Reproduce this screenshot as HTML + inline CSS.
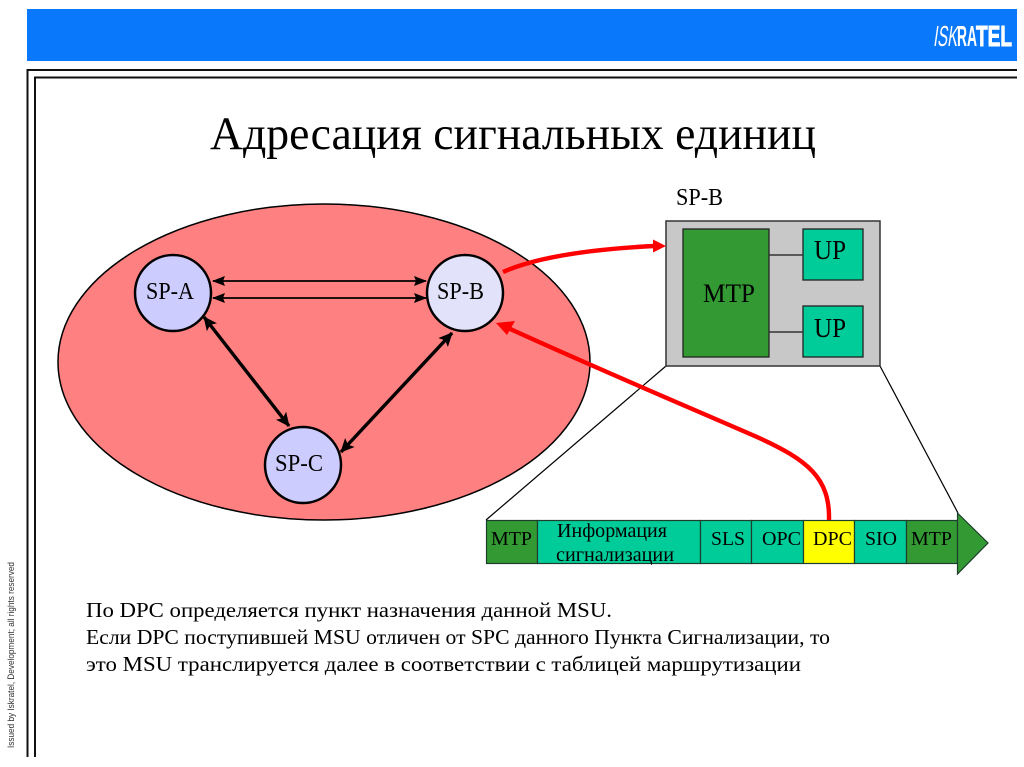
<!DOCTYPE html>
<html lang="ru">
<head>
<meta charset="utf-8">
<title>Адресация сигнальных единиц</title>
<style>
html,body{margin:0;padding:0;background:#fff;}
svg{display:block;}
text{font-family:"Liberation Serif","Noto Serif CJK SC",serif;fill:#000;}
.logo{font-family:"Liberation Sans",sans-serif;fill:#fff;}
</style>
</head>
<body>
<svg width="1024" height="767" viewBox="0 0 1024 767" xmlns="http://www.w3.org/2000/svg">
<defs>
<marker id="k" markerUnits="userSpaceOnUse" markerWidth="15" markerHeight="13" refX="13" refY="6.5" orient="auto-start-reverse"><path d="M0,0 L14,6.5 L0,13 L3,6.5 Z" fill="#000"/></marker>
<marker id="ks" markerUnits="userSpaceOnUse" markerWidth="14" markerHeight="10" refX="12" refY="5" orient="auto-start-reverse"><path d="M0,0 L13,5 L0,10 L2,5 Z" fill="#000"/></marker>
</defs>
<rect x="27" y="9" width="990" height="52" fill="#0a78fa"/>
<text class="logo" transform="translate(933,46) skewX(-8)" font-size="29" textLength="24" lengthAdjust="spacingAndGlyphs">ISK</text>
<text class="logo" x="957" y="46" font-size="29" font-weight="bold" textLength="20" lengthAdjust="spacingAndGlyphs">RA</text>
<text class="logo" x="976" y="46" font-size="29" font-weight="bold" stroke="#fff" stroke-width="1" textLength="36" lengthAdjust="spacingAndGlyphs">TEL</text>

<path d="M27.5,757 V70 H1017" fill="none" stroke="#111" stroke-width="2"/>
<path d="M35,757 V77.5 H1017" fill="none" stroke="#111" stroke-width="2"/>

<text x="210" y="149" font-size="47" textLength="606" lengthAdjust="spacingAndGlyphs">Адресация сигнальных единиц</text>

<text transform="translate(14,748) rotate(-90)" font-size="9" style="font-family:'Liberation Sans',sans-serif;fill:#333" textLength="186" lengthAdjust="spacingAndGlyphs">Issued by Iskratel, Development; all rights reserved</text>

<ellipse cx="324" cy="362" rx="266" ry="158" fill="#ff8080" stroke="#000" stroke-width="1.5"/>

<line x1="666" y1="366" x2="486" y2="520" stroke="#000" stroke-width="1.2"/>
<line x1="880" y1="366" x2="958" y2="513" stroke="#000" stroke-width="1.2"/>

<circle cx="173" cy="293" r="38" fill="#ccccff" stroke="#000" stroke-width="2.5"/>
<circle cx="465" cy="293" r="38" fill="#e2e2fb" stroke="#000" stroke-width="2.5"/>
<circle cx="303" cy="465" r="38" fill="#ccccff" stroke="#000" stroke-width="2.5"/>
<text x="146" y="299" font-size="24" textLength="48" lengthAdjust="spacingAndGlyphs">SP-A</text>
<text x="437" y="299" font-size="24" textLength="47" lengthAdjust="spacingAndGlyphs">SP-B</text>
<text x="275" y="471" font-size="24" textLength="48" lengthAdjust="spacingAndGlyphs">SP-C</text>

<line x1="213" y1="281" x2="426" y2="281" stroke="#000" stroke-width="1.8" marker-start="url(#ks)" marker-end="url(#ks)"/>
<line x1="213" y1="298" x2="426" y2="298" stroke="#000" stroke-width="1.8" marker-start="url(#ks)" marker-end="url(#ks)"/>
<line x1="204" y1="317" x2="289" y2="426" stroke="#000" stroke-width="3.4" marker-start="url(#k)" marker-end="url(#k)"/>
<line x1="452" y1="333" x2="341" y2="452" stroke="#000" stroke-width="3.4" marker-start="url(#k)" marker-end="url(#k)"/>

<rect x="666" y="221" width="214" height="145" fill="#c8c8c8" stroke="#333" stroke-width="1.5"/>
<rect x="683" y="229" width="86" height="128" fill="#339933" stroke="#222" stroke-width="1.3"/>
<rect x="803" y="229" width="60" height="51" fill="#00cc99" stroke="#222" stroke-width="1.3"/>
<rect x="803" y="306" width="60" height="51" fill="#00cc99" stroke="#222" stroke-width="1.3"/>
<line x1="769" y1="255" x2="803" y2="255" stroke="#333" stroke-width="1.5"/>
<line x1="769" y1="332" x2="803" y2="332" stroke="#333" stroke-width="1.5"/>
<text x="676" y="205" font-size="24" textLength="47" lengthAdjust="spacingAndGlyphs">SP-B</text>
<text x="703" y="302" font-size="26" textLength="52" lengthAdjust="spacingAndGlyphs">MTP</text>
<text x="814" y="259" font-size="27" textLength="32" lengthAdjust="spacingAndGlyphs">UP</text>
<text x="814" y="337" font-size="27" textLength="32" lengthAdjust="spacingAndGlyphs">UP</text>

<g stroke="#1d3d2d" stroke-width="1.2">
<rect x="486.5" y="520.5" width="51" height="43" fill="#339933"/>
<rect x="537.5" y="520.5" width="163" height="43" fill="#00cc99"/>
<rect x="700.5" y="520.5" width="51" height="43" fill="#00cc99"/>
<rect x="751.5" y="520.5" width="52" height="43" fill="#00cc99"/>
<rect x="803.5" y="520.5" width="51" height="43" fill="#ffff00"/>
<rect x="854.5" y="520.5" width="52" height="43" fill="#00cc99"/>
<rect x="906.5" y="520.5" width="51" height="43" fill="#339933"/>
<path d="M957.5,513 L988,543 L957.5,574 Z" fill="#339933"/>
</g>
<g font-size="20">
<text x="491" y="545" textLength="41" lengthAdjust="spacingAndGlyphs">MTP</text>
<text x="557" y="537" textLength="110" lengthAdjust="spacingAndGlyphs">Информация</text>
<text x="556" y="561" textLength="118" lengthAdjust="spacingAndGlyphs">сигнализации</text>
<text x="711" y="545" textLength="34" lengthAdjust="spacingAndGlyphs">SLS</text>
<text x="762" y="545" textLength="39" lengthAdjust="spacingAndGlyphs">OPC</text>
<text x="813" y="545" textLength="39" lengthAdjust="spacingAndGlyphs">DPC</text>
<text x="865" y="545" textLength="32" lengthAdjust="spacingAndGlyphs">SIO</text>
<text x="911" y="545" textLength="41" lengthAdjust="spacingAndGlyphs">MTP</text>
</g>

<path d="M503,272 C530,260 575,250 654,246" fill="none" stroke="#ff0000" stroke-width="4.4"/>
<path d="M666,246 L653,239.5 L653,252.5 Z" fill="#ff0000"/>
<path d="M829,520 C830,478 808,460 757,437 C700,412 600,370 508,328" fill="none" stroke="#ff0000" stroke-width="4.4"/>
<path d="M496,323 L515,321 L507,335 Z" fill="#ff0000"/>

<g font-size="21">
<text x="86" y="617" textLength="526" lengthAdjust="spacingAndGlyphs">По DPC определяется пункт назначения данной MSU.</text>
<text x="86" y="644" textLength="744" lengthAdjust="spacingAndGlyphs">Если DPC поступившей MSU отличен от SPC данного Пункта Сигнализации, то</text>
<text x="86" y="671" textLength="715" lengthAdjust="spacingAndGlyphs">это MSU транслируется далее в соответствии с таблицей маршрутизации</text>
</g>
</svg>
</body>
</html>
